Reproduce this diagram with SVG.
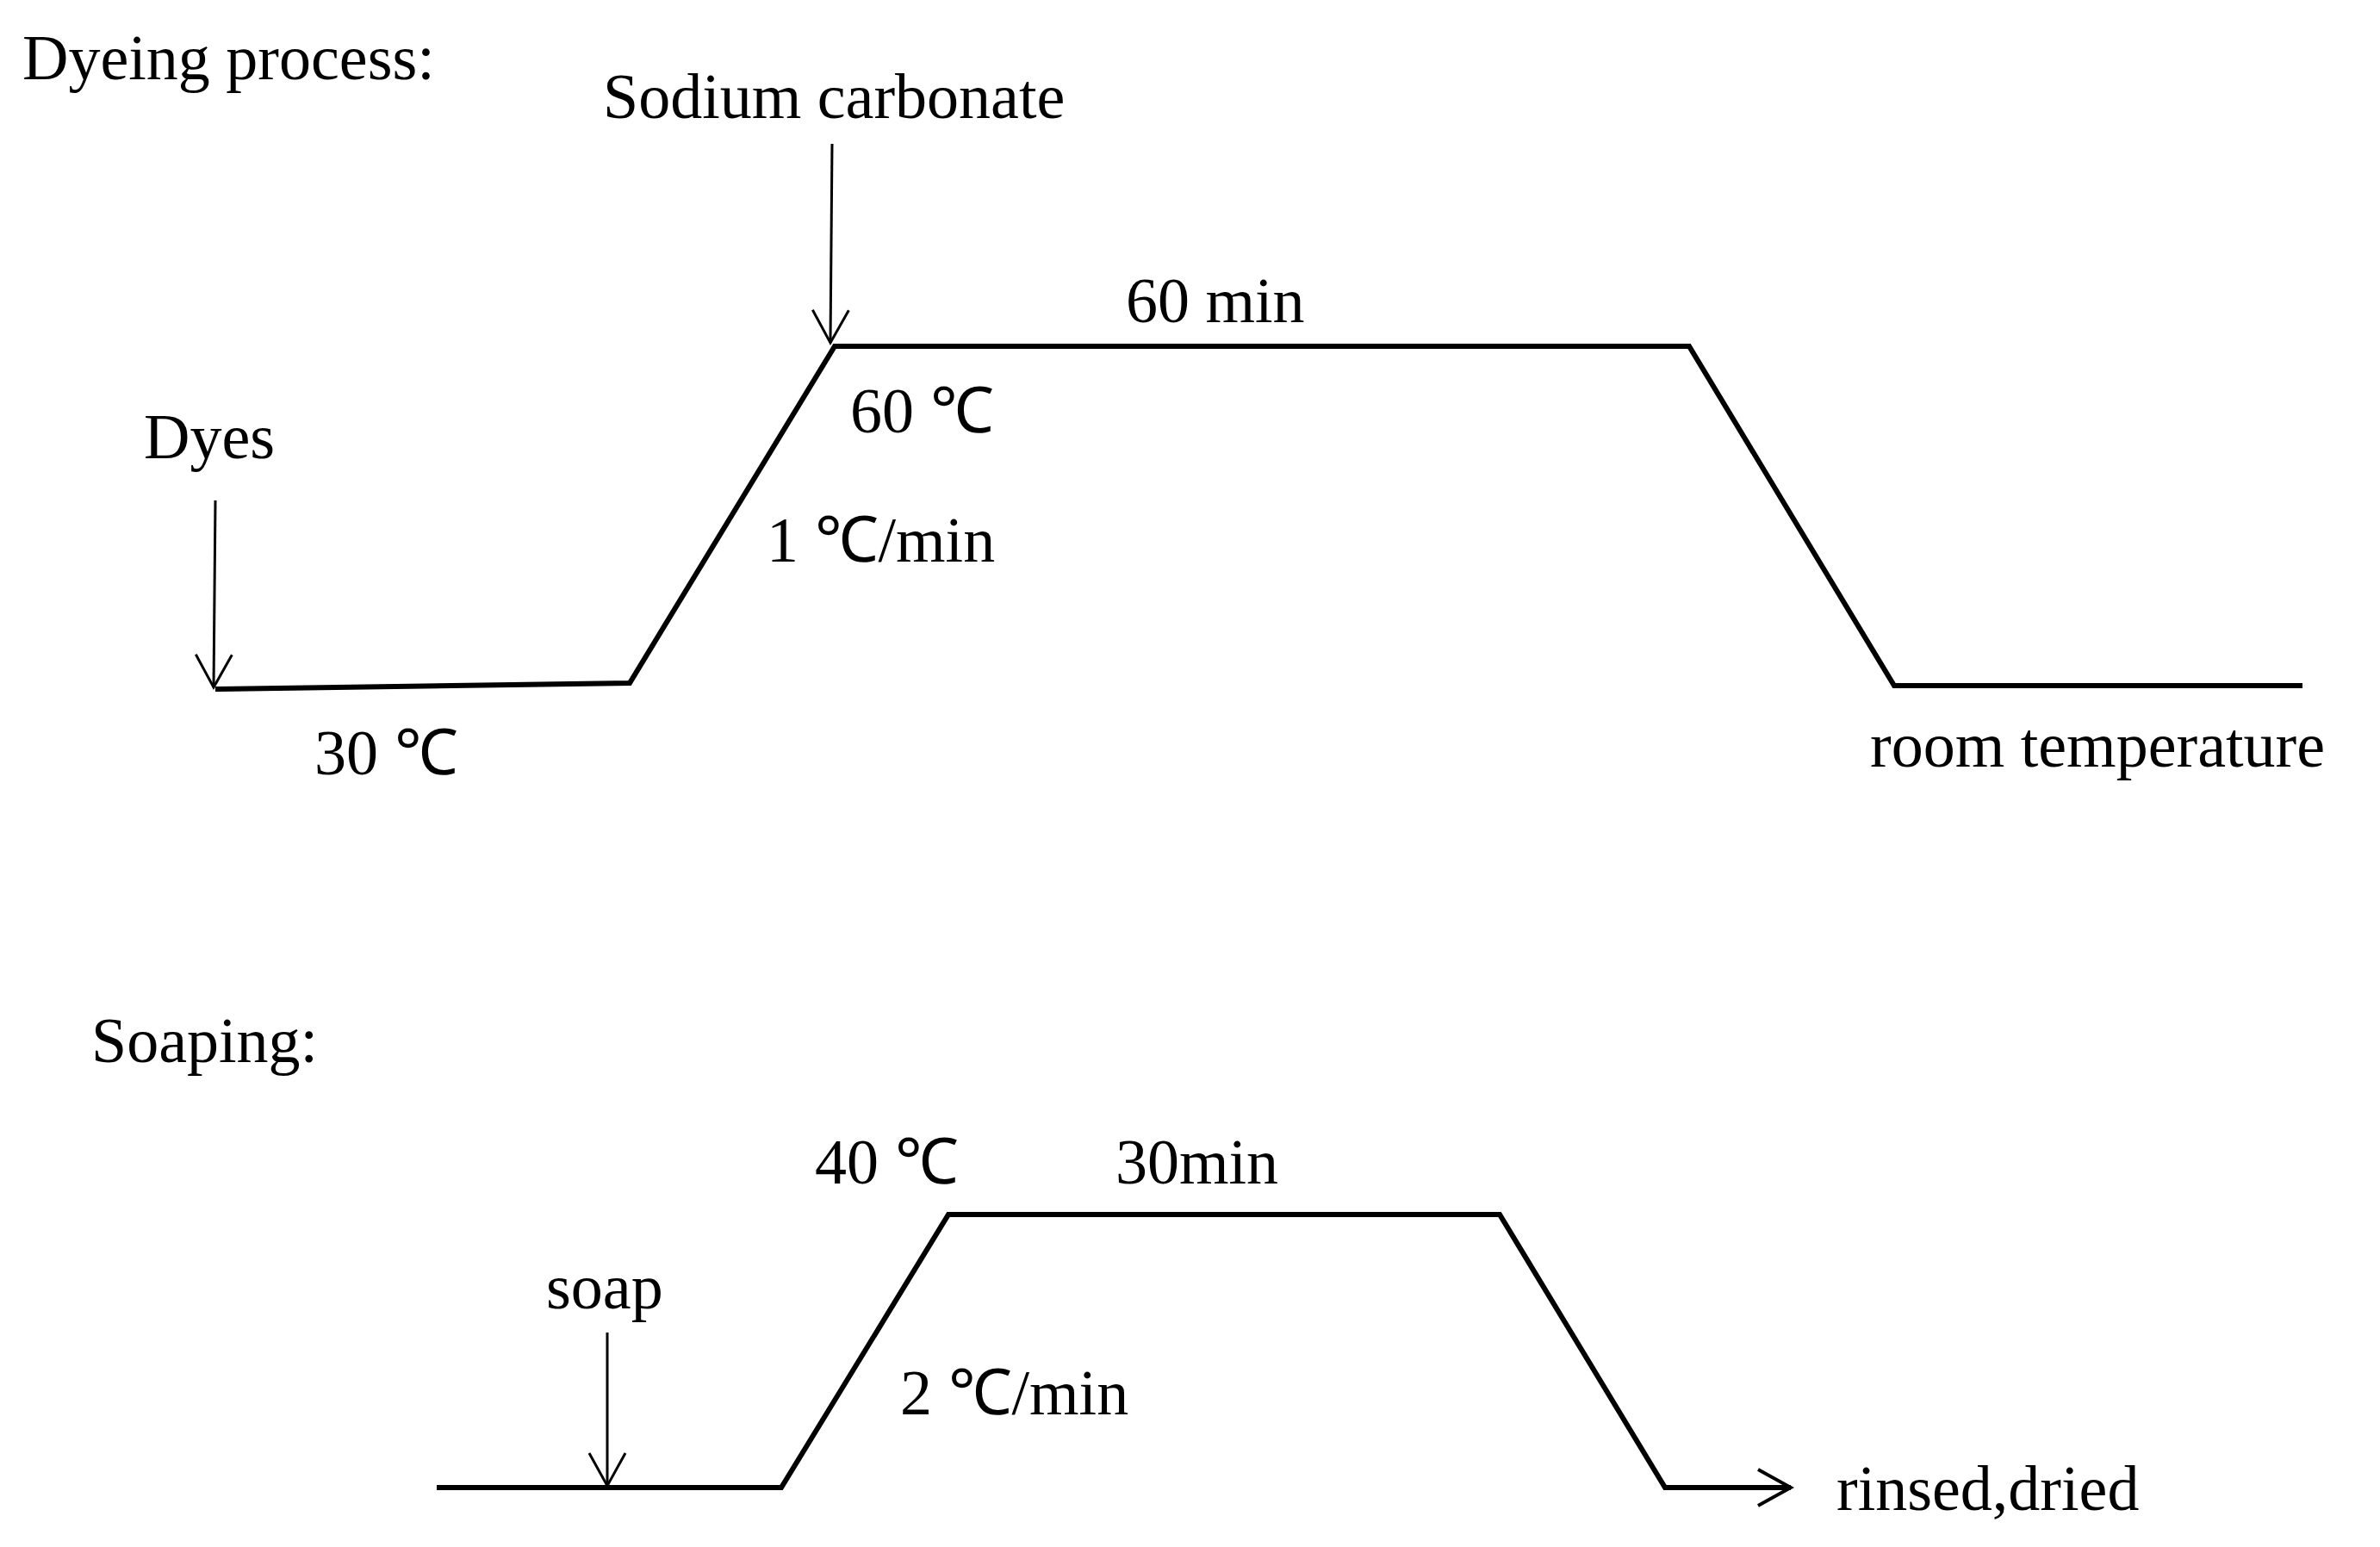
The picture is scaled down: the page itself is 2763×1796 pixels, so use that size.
<svg xmlns="http://www.w3.org/2000/svg" width="2763" height="1796" viewBox="0 0 2763 1796">
<style>
text{font-family:"Liberation Serif","Times New Roman",serif;font-size:74px;fill:#000}
.thick{fill:none;stroke:#000;stroke-width:6;stroke-linejoin:miter}
.thin{fill:none;stroke:#000;stroke-width:3}
</style>
<defs>
<marker id="ah" markerWidth="14" markerHeight="20" refX="12" refY="10" orient="auto" markerUnits="userSpaceOnUse" viewBox="0 0 14 20">
<path d="M0,0 L12,10 L0,20" fill="none" stroke="#000" stroke-width="3"/>
</marker>
<marker id="ah2" markerWidth="44" markerHeight="46" refX="40" refY="23" orient="auto" markerUnits="userSpaceOnUse" viewBox="0 0 44 46">
<path d="M2,2 L40,23 L2,44" fill="none" stroke="#000" stroke-width="4"/>
</marker>
<marker id="ahv" markerWidth="44" markerHeight="46" refX="40" refY="23" orient="auto" markerUnits="userSpaceOnUse" viewBox="0 0 44 46">
<path d="M2,2 L40,23 L2,44" fill="none" stroke="#000" stroke-width="3"/>
</marker>
</defs>
<rect width="2763" height="1796" fill="#fff"/>
<g id="connectors">
<polyline class="thick" points="250,800 731,793 969,402 1961,402 2199,796 2673,796"/>
<line class="thin" x1="250" y1="581" x2="248" y2="798" marker-end="url(#ahv)"/>
<line class="thin" x1="966" y1="167" x2="964" y2="398" marker-end="url(#ahv)"/>
<polyline class="thick" points="507,1727 907,1727 1101,1410 1741,1410 1933,1727 2079,1727" marker-end="url(#ah2)"/>
<line class="thin" x1="705" y1="1547" x2="705" y2="1725" marker-end="url(#ahv)"/>
</g>
<g id="title-dyeing"><text x="26" y="92">Dyeing process:</text></g>
<g id="sodium"><text x="700" y="137">Sodium carbonate</text></g>
<g id="t60min"><text x="1307" y="374">60 min</text></g>
<g id="t60c"><text x="987" y="502">60 ℃</text></g>
<g id="dyes"><text x="167" y="532">Dyes</text></g>
<g id="rate1"><text x="890" y="652">1 ℃/min</text></g>
<g id="t30c"><text x="365" y="899">30 ℃</text></g>
<g id="room"><text x="2171" y="890">room temperature</text></g>
<g id="title-soaping"><text x="106" y="1233">Soaping:</text></g>
<g id="t40c"><text x="946" y="1374">40 ℃</text></g>
<g id="t30min"><text x="1295" y="1374">30min</text></g>
<g id="soap"><text x="634" y="1519">soap</text></g>
<g id="rate2"><text x="1045" y="1642">2 ℃/min</text></g>
<g id="rinsed"><text x="2132" y="1753">rinsed,dried</text></g>
</svg>
